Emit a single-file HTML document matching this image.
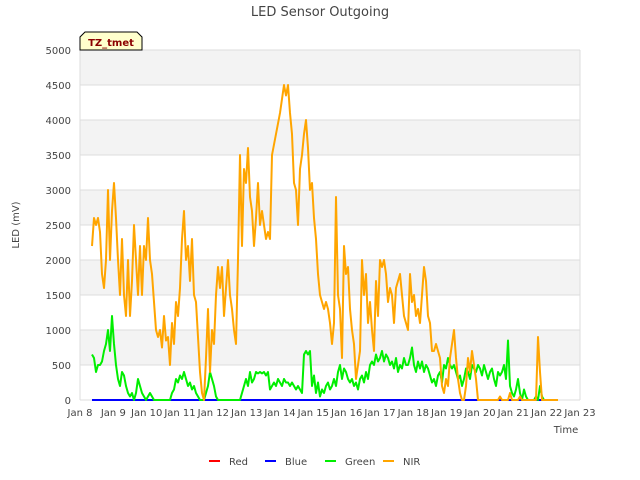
<!DOCTYPE html>
<html><head><meta charset="utf-8"><style>
body{margin:0;background:#fff;}
svg{font-family:"DejaVu Sans","Liberation Sans",sans-serif;display:block;}
</style></head><body>
<svg id="chart" width="640" height="480">
<rect x="0" y="0" width="640" height="480" fill="#fff"/>
<g id="bands"></g><g id="grid"></g>
<text x="320" y="16" text-anchor="middle" font-size="13" fill="#444">LED Sensor Outgoing</text>
<text x="19" y="225" text-anchor="middle" font-size="10" fill="#444" transform="rotate(-90 19 225)">LED (mV)</text>
<text x="566" y="433" text-anchor="middle" font-size="10" fill="#444">Time</text>
<g id="yticks"></g><g id="xticks"></g><g id="series"></g>
<g>
<path d="M80,50 L80,37 L85,32 L137,32 L142,37 L142,50 Z" fill="#ffffcc" stroke="#000" stroke-width="1"/>
<text x="111" y="46" text-anchor="middle" font-size="10" font-weight="bold" fill="#8b0000">TZ_tmet</text>
</g>
<g id="legend"></g>
</svg>
<script>
const yTicks=[0,500,1000,1500,2000,2500,3000,3500,4000,4500,5000];
const xTickLabels=["Jan 8","Jan 9","Jan 10","Jan 11","Jan 12","Jan 13","Jan 14","Jan 15","Jan 16","Jan 17","Jan 18","Jan 19","Jan 20","Jan 21","Jan 22","Jan 23"];
const startDay=8.36, stepDay=0.06;
const nir=[2200,2600,2500,2600,2400,1800,1600,2000,3000,2000,2700,3100,2600,2000,1500,2300,1500,1200,2000,1200,1700,2500,2000,1500,2200,1500,2200,2000,2600,2000,1800,1400,1000,900,1000,750,1200,850,900,500,1100,800,1400,1200,1600,2300,2700,2000,2200,1700,2300,1500,1400,900,400,100,0,600,1300,400,1000,800,1500,1900,1600,1900,1200,1600,2000,1500,1300,1000,800,2000,3500,2200,3300,3100,3600,2900,2700,2200,2600,3100,2500,2700,2500,2300,2400,2300,3500,3650,3800,3950,4100,4300,4500,4350,4500,4100,3800,3100,3000,2500,3300,3500,3800,4000,3600,3000,3100,2600,2300,1800,1500,1400,1300,1400,1300,1100,800,1100,2900,1500,1300,600,2200,1800,1900,1300,1000,800,300,500,700,2000,1500,1800,1100,1400,1000,700,1700,1200,2000,1900,2000,1800,1400,1600,1500,1100,1600,1700,1800,1500,1200,1100,1000,1800,1400,1500,1200,1300,1100,1500,1900,1700,1200,1100,700,700,800,700,600,200,100,300,200,600,800,1000,600,300,100,0,0,200,600,400,700,500,300,
0,0,0,0,0,0,0,0,0,0,0,50,0,0,0,0,100,0,0,0,0,50,0,0,0,0,0,0,0,0,900,400,0,0,0,0,0,0,0,0,0];
const green=[650,600,400,500,500,550,700,800,1000,700,1200,800,500,300,200,400,350,200,100,50,100,0,100,300,200,100,50,0,50,100,50,
0,0,0,0,0,0,0,0,0,
100,150,300,250,350,300,400,300,200,250,150,200,100,50,0,0,0,100,200,400,300,200,50,
0,0,0,0,0,0,0,0,0,0,0,0,
100,200,300,200,400,250,300,400,380,400,380,400,350,400,150,200,250,200,300,250,200,300,250,250,200,250,200,150,200,150,100,650,700,650,700,200,
350,100,250,50,150,100,200,250,150,200,300,200,400,500,300,450,400,300,250,300,200,250,150,300,350,250,400,300,500,550,500,650,550,600,700,550,650,600,500,550,450,600,400,500,450,600,500,500,600,750,500,400,550,450,550,400,500,450,350,250,300,200,350,400,250,500,450,600,500,450,500,400,300,350,200,300,450,400,300,500,450,400,500,450,350,500,400,300,400,450,300,200,400,350,400,500,300,850,
200,100,50,150,300,100,0,150,50,0,0,0,0,50,0,200,50,
0,0,0,0,0,0,0,0];
const red=new Array(nir.length).fill(0);
const blue=new Array(nir.length).fill(0);
const X0=80,X1=580,Y0=400,Y1=50;
const xs=d=>X0+(d-8)*(X1-X0)/15;
const ys=v=>Y0-v*(Y0-Y1)/5000;
const NS="http://www.w3.org/2000/svg";
function mk(tag,attrs,parent){const e=document.createElementNS(NS,tag);for(const k in attrs)e.setAttribute(k,attrs[k]);parent.appendChild(e);return e;}
const bands=document.getElementById('bands'),grid=document.getElementById('grid'),yt=document.getElementById('yticks'),xt=document.getElementById('xticks'),ser=document.getElementById('series'),leg=document.getElementById('legend');
for(let i=0;i<yTicks.length-1;i++){
 if(i%2===1){const b=mk('rect',{x:X0,y:ys(yTicks[i+1]),width:X1-X0,height:ys(yTicks[i])-ys(yTicks[i+1]),fill:'#f3f3f3'},bands);
 
 }
}
yTicks.forEach(v=>{
 const l=mk('line',{x1:X0,x2:X1,y1:ys(v),y2:ys(v),stroke:'#dddddd','stroke-width':1},grid);
 
 
 const t=mk('text',{x:X0-9,y:ys(v)+4,'text-anchor':'end','font-size':10,fill:'#444'},yt);
 t.textContent=v;
 
 
});
const vl=mk('line',{x1:X0,x2:X0,y1:Y1,y2:Y0,stroke:'#dddddd'},grid);


const vr=mk('line',{x1:X1,x2:X1,y1:Y1,y2:Y0,stroke:'#dddddd'},grid);


xTickLabels.forEach((s,i)=>{
 const t=mk('text',{x:xs(8+i),y:416,'text-anchor':'middle','font-size':10,fill:'#444'},xt);
 t.textContent=s;
 
 
});
function line(arr,color,name){
 const pts=arr.map((v,i)=>xs(startDay+i*stepDay).toFixed(1)+','+ys(v).toFixed(1)).join(' ');
 const p=mk('polyline',{points:pts,fill:'none',stroke:color,'stroke-width':2,'stroke-linejoin':'round'},ser);
 
 
}
line(red,'#ff0000','red-series');
line(blue,'#0000ff','blue-series');
line(green,'#00ee00','green-series');
line(nir,'#ffa500','nir-series');
const legItems=[["Red","#ff0000",209],["Blue","#0000ff",265],["Green","#00ee00",325],["NIR","#ffa500",383]];
legItems.forEach(([n,c,x])=>{
 const g=mk('g',{},leg);
 
 
 mk('line',{x1:x,x2:x+11,y1:461,y2:461,stroke:c,'stroke-width':2},g);
 const t=mk('text',{x:x+20,y:465,'font-size':10,fill:'#444'},g);
 t.textContent=n;
});
</script>
</body></html>
